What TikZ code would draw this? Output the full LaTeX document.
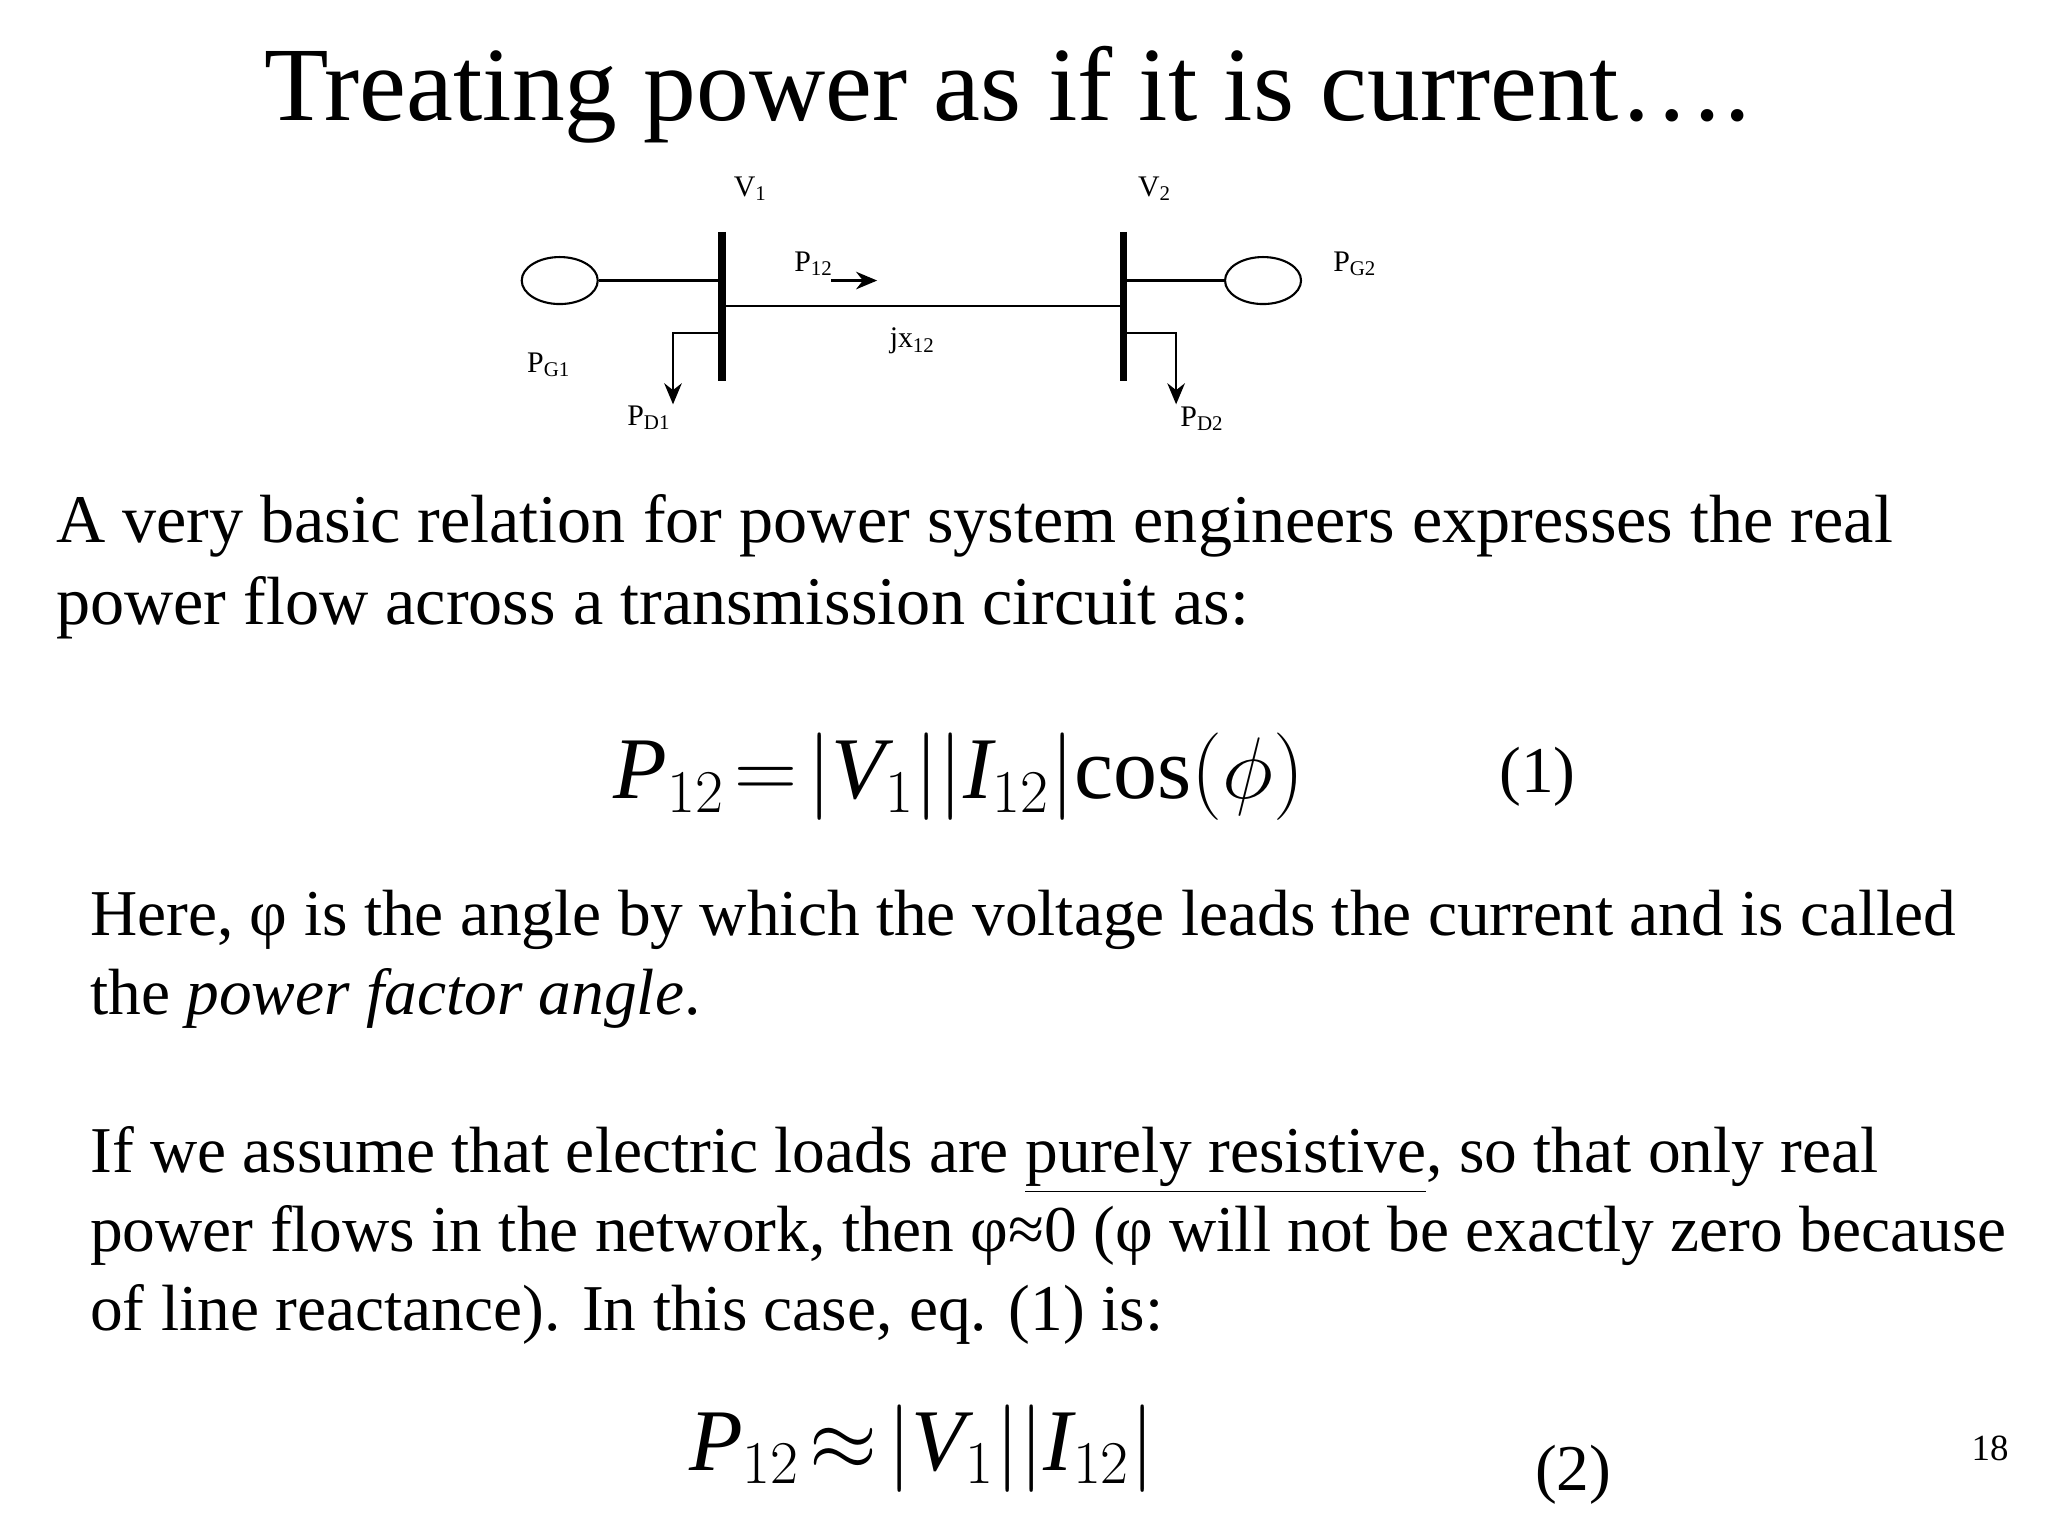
\documentclass[tikz,border=0pt]{standalone}
\usepackage{fontspec}
\setmainfont{Liberation Serif}
\usetikzlibrary{arrows.meta,shapes.geometric}
\begin{document}
\begin{tikzpicture}[x=0.01317cm,y=-0.01317cm,
  txt/.style={anchor=base west,inner sep=0,font=\fontsize{19.4}{23}\selectfont},
  txtb/.style={anchor=base west,inner sep=0,font=\fontsize{18.6}{23}\selectfont},
  sm/.style={inner sep=0,font=\fontsize{8.5}{10}\selectfont},
  eq/.style={inner sep=0,font=\fontsize{25}{28}\selectfont},
  bus/.style={line width=2.2pt},
  wire/.style={line width=0.6pt}]
\useasboundingbox (0,0) rectangle (1555,1166);
\node[inner sep=0,font=\fontsize{30}{36}\selectfont] (title) at (765,72) {Treating power as if it is current\dots.};
% circuit
\coordinate (b1t) at (548,176); \coordinate (b1b) at (548,289);
\coordinate (b2t) at (853,176); \coordinate (b2b) at (853,289);
\draw[bus] (b1t) -- (b1b); \draw[bus] (b2t) -- (b2b);
\coordinate (l1) at (548,232); \coordinate (l2) at (853,232);
\draw[wire] (l1) -- (l2);
\node[draw,wire,ellipse,inner sep=0,minimum width=0.76cm,minimum height=0.47cm] (g1) at (425,213) {};
\node[draw,wire,ellipse,inner sep=0,minimum width=0.76cm,minimum height=0.47cm] (g2) at (959,213) {};
\coordinate (g1b) at (548,213); \coordinate (g2b) at (853,213);
\draw[wire] (g1.east) -- (g1b); \draw[wire] (g2.west) -- (g2b);
\coordinate (d1a) at (548,253); \coordinate (d1c) at (511,253); \coordinate (d1e) at (511,307);
\draw[wire,-{Stealth[length=6pt,width=5pt]}] (d1a) -- (d1c) -- (d1e);
\coordinate (d2a) at (853,253); \coordinate (d2c) at (893,253); \coordinate (d2e) at (893,307);
\draw[wire,-{Stealth[length=6pt,width=5pt]}] (d2a) -- (d2c) -- (d2e);
\coordinate (pa) at (631,213); \coordinate (pb) at (666,213);
\draw[wire,-{Stealth[length=6pt,width=5pt]}] (pa) -- (pb);
\node[sm] (v1) at (570,143) {V\textsubscript{1}};
\node[sm] (v2) at (877,143) {V\textsubscript{2}};
\node[sm] (p12) at (618,200) {P\textsubscript{12}};
\node[sm] (jx) at (693,259) {jx\textsubscript{12}};
\node[sm] (pg1) at (417,277) {P\textsubscript{G1}};
\node[sm] (pg2) at (1029,200) {P\textsubscript{G2}};
\node[sm] (pd1) at (493,317) {P\textsubscript{D1}};
\node[sm] (pd2) at (913,318) {P\textsubscript{D2}};
% text
\node[txt] (t1) at (42,412) {A very basic relation for power system engineers expresses the real};
\node[txt] (t2) at (42,474) {power flow across a transmission circuit as:};
\node[eq] (e1) at (728,590) {$\textit{P}_{12}\! = \!\left|\textit{V}_{1}\right|\!\left|\textit{I}_{12}\right|\!\textnormal{cos}\!\left(\phi\right)$};
\node[txtb] (n1) at (1138,602) {(1)};
\node[txtb] (t3) at (68,710) {Here, φ is the angle by which the voltage leads the current and is called};
\node[txtb] (t4) at (68,770) {the \textit{power factor angle}.};
\node[txtb] (t5) at (68,890) {If we assume that electric loads are \underline{purely resistive}, so that only real};
\node[txtb] (t6) at (68,950) {power flows in the network, then φ≈0 (φ will not be exactly zero because};
\node[txtb] (t7) at (68,1010) {of line reactance). In this case, eq. (1) is:};
\node[eq] (e2) at (700,1100) {$\textit{P}_{12}\! \approx \!\left|\textit{V}_{1}\right|\!\left|\textit{I}_{12}\right|$};
\node[txtb] (n2) at (1165,1132) {(2)};
\node[inner sep=0,font=\fontsize{10.5}{12}\selectfont] (pg) at (1511,1100) {18};
\end{tikzpicture}
\end{document}
